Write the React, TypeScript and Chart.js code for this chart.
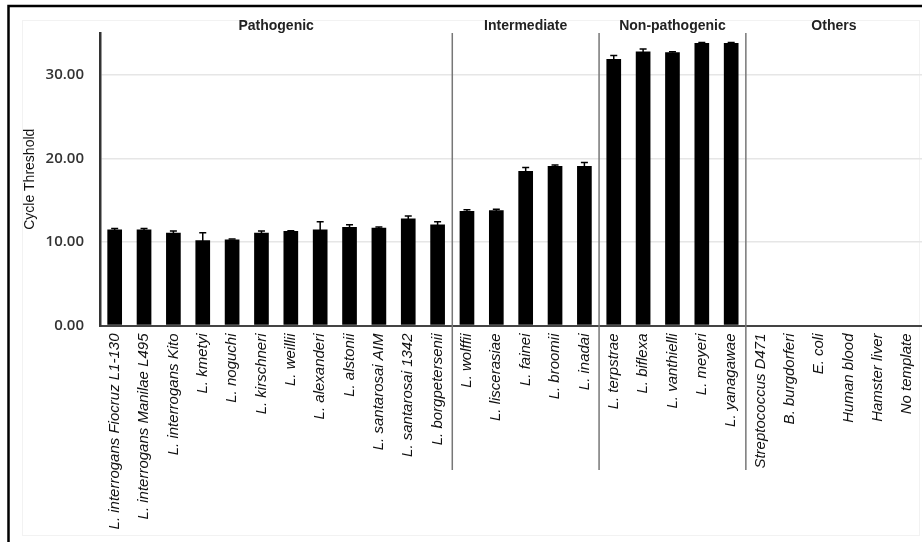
import React, { useEffect, useRef } from "react";
import { Chart, registerables } from "chart.js";

Chart.register(...registerables);

const categories: string[] = [
  "L. interrogans Fiocruz L1-130",
  "L. interrogans Manilae L495",
  "L. interrogans Kito",
  "L. kmetyi",
  "L. noguchi",
  "L. kirschneri",
  "L. weillii",
  "L. alexanderi",
  "L. alstonii",
  "L. santarosai AIM",
  "L. santarosai 1342",
  "L. borgpetersenii",
  "L. wolffii",
  "L. liscerasiae",
  "L. fainei",
  "L. broomii",
  "L. inadai",
  "L. terpstrae",
  "L. biflexa",
  "L. vanthielli",
  "L. meyeri",
  "L. yanagawae",
  "Streptococcus D471",
  "B. burgdorferi",
  "E. coli",
  "Human blood",
  "Hamster liver",
  "No template",
];

const ctValues: (number | null)[] = [
  11.5, 11.5, 11.1, 10.2, 10.3, 11.1, 11.3, 11.5, 11.8, 11.7, 12.8, 12.1,
  13.7, 13.8, 18.5, 19.1, 19.1,
  31.9, 32.8, 32.7, 33.8, 33.8,
  null, null, null, null, null, null,
];

const ctErrors: number[] = [
  0.1, 0.1, 0.2, 0.9, 0.05, 0.2, 0.05, 0.9, 0.25, 0.1, 0.3, 0.3,
  0.15, 0.1, 0.4, 0.1, 0.4,
  0.4, 0.3, 0.05, 0.05, 0.05,
  0, 0, 0, 0, 0, 0,
];

const groupNames: string[] = ["Pathogenic", "Intermediate", "Non-pathogenic", "Others"];
const groupSizes: number[] = [12, 5, 5, 6];

const yTicks: number[] = [0, 10, 20, 30];

const decorPlugin = {
  id: "decor",
  beforeDraw(chart: any) {
    const ctx = chart.ctx;
    ctx.save();
    ctx.fillStyle = "#ffffff";
    ctx.fillRect(0, 0, chart.width, chart.height);
    // faint inner rectangle
    ctx.strokeStyle = "#f2f2f2";
    ctx.lineWidth = 1;
    ctx.strokeRect(22.5, 20.5, 897, 515);
    // black frame (top and left)
    ctx.strokeStyle = "#000000";
    ctx.lineWidth = 2.5;
    ctx.beginPath();
    ctx.moveTo(8.5, 542);
    ctx.lineTo(8.5, 6);
    ctx.lineTo(chart.width, 6);
    ctx.stroke();
    ctx.restore();
  },
  afterDatasetsDraw(chart: any) {
    const ctx = chart.ctx;
    const xs = chart.scales.x;
    const ys = chart.scales.y;
    ctx.save();
    // error bars
    ctx.strokeStyle = "#000000";
    ctx.lineWidth = 1.5;
    ctValues.forEach((v, i) => {
      const e = ctErrors[i];
      if (v == null || !e) return;
      const x = xs.getPixelForValue(i);
      const yTop = ys.getPixelForValue(v + e);
      const yBot = ys.getPixelForValue(v - e);
      ctx.beginPath();
      ctx.moveTo(x, yBot);
      ctx.lineTo(x, yTop);
      ctx.moveTo(x - 3.5, yTop);
      ctx.lineTo(x + 3.5, yTop);
      ctx.stroke();
    });
    // group separators and labels
    let start = 0;
    ctx.font = "bold 14px 'Liberation Sans', Arial, sans-serif";
    ctx.fillStyle = "#222222";
    ctx.textAlign = "center";
    ctx.textBaseline = "middle";
    groupSizes.forEach((n, g) => {
      const end = start + n - 1;
      const cx = (xs.getPixelForValue(start) + xs.getPixelForValue(end)) / 2;
      ctx.fillText(groupNames[g], cx, 26);
      if (g < groupSizes.length - 1) {
        const sx = (xs.getPixelForValue(end) + xs.getPixelForValue(end + 1)) / 2;
        ctx.strokeStyle = "#777777";
        ctx.lineWidth = 1.5;
        ctx.beginPath();
        ctx.moveTo(sx, chart.chartArea.top);
        ctx.lineTo(sx, 470);
        ctx.stroke();
      }
      start += n;
    });
    ctx.restore();
  },
};

export default function App() {
  const canvasRef = useRef<HTMLCanvasElement | null>(null);

  useEffect(() => {
    if (!canvasRef.current) return;
    const chart = new Chart(canvasRef.current, {
      type: "bar",
      data: {
        labels: categories,
        datasets: [
          {
            label: "Cycle Threshold",
            data: ctValues,
            backgroundColor: "#000000",
            borderWidth: 0,
            barPercentage: 0.5,
            categoryPercentage: 1,
          },
        ],
      },
      options: {
        animation: false,
        responsive: true,
        maintainAspectRatio: false,
        layout: { padding: { left: 0, right: 0, top: 33, bottom: 0 } },
        plugins: {
          legend: { display: false },
          tooltip: { enabled: false },
        },
        scales: {
          x: {
            offset: true,
            grid: { display: false, drawTicks: false },
            border: { display: true, color: "#444444", width: 2 },
            ticks: {
              autoSkip: false,
              minRotation: 90,
              maxRotation: 90,
              padding: 8,
              color: "#111111",
              font: { family: "'Liberation Sans', Arial, sans-serif", size: 15, style: "italic" },
            },
            afterFit: (scale: any) => {
              scale.height = 219.5;
              scale.paddingRight = 0;
              scale.paddingLeft = 0;
            },
          },
          y: {
            min: 0,
            max: 35,
            afterBuildTicks: (scale: any) => {
              scale.ticks = yTicks.map((v) => ({ value: v }));
            },
            grid: {
              drawTicks: false,
              color: (c: any) => (c.tick && c.tick.value === 0 ? "rgba(0,0,0,0)" : "#e6e6e6"),
              lineWidth: 1.5,
            },
            border: { display: true, color: "#333333", width: 2.5 },
            ticks: {
              padding: 16,
              color: "#333333",
              font: { family: "'Open Sans', sans-serif", size: 15, weight: "600" },
              callback: (v: any) => Number(v).toFixed(2),
            },
            title: {
              display: true,
              text: "Cycle Threshold",
              color: "#111111",
              padding: { top: 22, bottom: 0 },
              font: { family: "'Liberation Sans', Arial, sans-serif", size: 14 },
            },
            afterFit: (scale: any) => {
              scale.width = 100;
            },
          },
        },
      },
      plugins: [decorPlugin],
    } as any);
    return () => chart.destroy();
  }, []);

  return (
    <div style={{ position: "fixed", left: 0, top: 0, width: 922, height: 545, background: "#fff" }}>
      <canvas ref={canvasRef} />
    </div>
  );
}
